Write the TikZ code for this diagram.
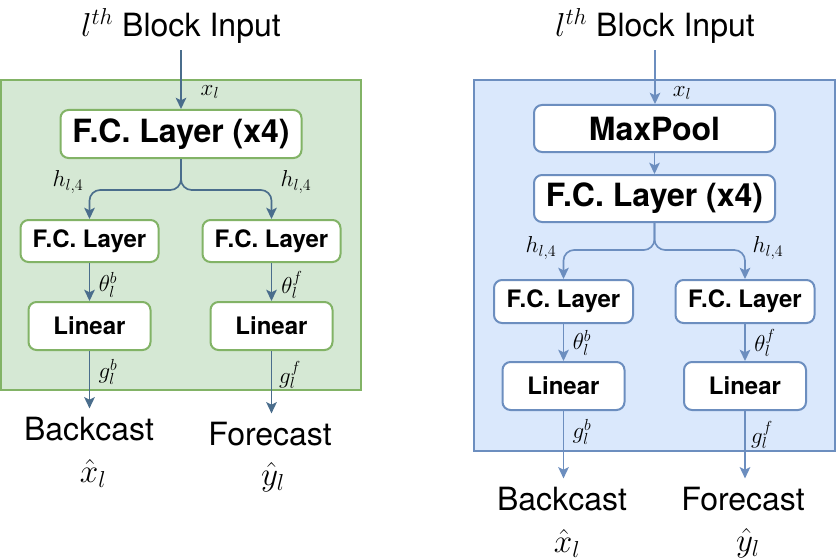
\documentclass[tikz,border=0pt]{standalone}
\usepackage[no-math]{fontspec}
\setmainfont{TeX Gyre Heros}
\usetikzlibrary{arrows.meta}
\definecolor{gfill}{HTML}{D5E8D4}
\definecolor{gline}{HTML}{82B366}
\definecolor{bfill}{HTML}{DAE8FC}
\definecolor{bline}{HTML}{6C8EBF}
\definecolor{darr}{HTML}{4A6D8C}
% box: style, name, cx, cy, w, h (px), text
\newcommand{\blk}[7]{\node[#1, minimum width=#5*0.75pt, minimum height=#6*0.75pt] (#2) at (#3,#4) {#7};}

\begin{document}
\begin{tikzpicture}[x=0.75pt, y=-0.75pt,
  box/.style={draw, line width=1.5pt, rounded corners=6pt, fill=white, inner sep=0pt},
  boxG/.style={box, draw=gline}, boxB/.style={box, draw=bline},
  big/.style={font=\fontsize{24}{28}\selectfont\bfseries},
  small/.style={font=\fontsize{18}{22}\selectfont\bfseries},
  ttl/.style={font=\fontsize{24}{28}\selectfont, inner sep=0pt, anchor=base},
  lbl/.style={font=\fontsize{17.5}{20}\selectfont, inner sep=0pt},
  hat/.style={font=\fontsize{26}{30}\selectfont, inner sep=0pt},
  tip/.style={-{Stealth[length=8.5pt, width=8pt, inset=2pt]}},
  arrG/.style={draw=darr, line width=1.25pt, tip},
  arrB/.style={draw=bline, line width=1.25pt, tip}]
  \useasboundingbox (0,0) rectangle (836,560);
  % left block
  \draw[line width=1.2pt, draw=gline, fill=gfill] (1,80) rectangle (361,390);
  \node[ttl] (inL) at (181,37) {$l^{th}$ Block Input};
  \blk{boxG,big}{fcL}{181}{134}{241}{48}{F.C. Layer (x4)}
  \blk{boxG,small}{fcbL}{89.5}{241}{138}{42}{F.C. Layer}
  \blk{boxG,small}{fcfL}{271.5}{241}{138}{42}{F.C. Layer}
  \blk{boxG,small}{linbL}{89.5}{326}{122}{48}{Linear}
  \blk{boxG,small}{linfL}{271.5}{326}{122}{48}{Linear}
  \coordinate (splitL) at (181,190);
  \node[ttl] (backL) at (89,440) {Backcast};
  \node[ttl] (foreL) at (270,445) {Forecast};
  \node[hat] (xhatL) at (93,473) {$\hat{x}_l$};
  \node[hat] (yhatL) at (273,477) {$\hat{y}_l$};
  \node[lbl] (xlL) at (210,92) {$x_l$};
  \node[lbl] (hbL) at (68,182) {$h_{l,4}$};
  \node[lbl] (hfL) at (296,182) {$h_{l,4}$};
  \node[lbl] (tbL) at (108,285) {$\theta_l^b$};
  \node[lbl] (tfL) at (292,285) {$\theta_l^f$};
  \node[lbl] (gbL) at (108,372) {$g_l^b$};
  \node[lbl] (gfL) at (290,375) {$g_l^f$};
  \draw[arrG, shorten <=4.5pt] (inL.south) -- (fcL.north);
  \draw[arrG, rounded corners=8pt] (fcL.south) -- (splitL) -| (fcbL.north);
  \draw[arrG, rounded corners=8pt] (fcL.south) -- (splitL) -| (fcfL.north);
  \draw[arrG] (fcbL) -- (linbL);
  \draw[arrG] (fcfL) -- (linfL);
  \draw[arrG, shorten >=6pt] (linbL.south) -- (linbL.south |- backL.north);
  \draw[arrG, shorten >=6pt] (linfL.south) -- (linfL.south |- foreL.north);
  % right block
  \draw[line width=1.2pt, draw=bline, fill=bfill] (474,80) rectangle (835,451);
  \node[ttl] (inR) at (655,37) {$l^{th}$ Block Input};
  \blk{boxB,big}{poolR}{654.5}{128.5}{241}{47}{MaxPool}
  \blk{boxB,big}{fcR}{654.5}{198.5}{241}{47}{F.C. Layer (x4)}
  \blk{boxB,small}{fcbR}{563.5}{301.5}{139}{43}{F.C. Layer}
  \blk{boxB,small}{fcfR}{745}{301.5}{139}{43}{F.C. Layer}
  \blk{boxB,small}{linbR}{563.5}{386}{122}{48}{Linear}
  \blk{boxB,small}{linfR}{745}{386}{122}{48}{Linear}
  \coordinate (splitR) at (654.5,250);
  \node[ttl] (backR) at (562,510) {Backcast};
  \node[ttl] (foreR) at (743,510) {Forecast};
  \node[hat] (xhatR) at (567,543) {$\hat{x}_l$};
  \node[hat] (yhatR) at (748,543) {$\hat{y}_l$};
  \node[lbl] (xlR) at (682,93) {$x_l$};
  \node[lbl] (hbR) at (541,248) {$h_{l,4}$};
  \node[lbl] (hfR) at (768,248) {$h_{l,4}$};
  \node[lbl] (tbR) at (582,343) {$\theta_l^b$};
  \node[lbl] (tfR) at (765,343) {$\theta_l^f$};
  \node[lbl] (gbR) at (582,432) {$g_l^b$};
  \node[lbl] (gfR) at (762,435) {$g_l^f$};
  \draw[arrB, shorten <=4.5pt] (inR.south) -- (inR.south |- poolR.north);
  \draw[arrB] (poolR) -- (fcR);
  \draw[arrB, rounded corners=8pt] (fcR.south) -- (splitR) -| (fcbR.north);
  \draw[arrB, rounded corners=8pt] (fcR.south) -- (splitR) -| (fcfR.north);
  \draw[arrB] (fcbR) -- (linbR);
  \draw[arrB] (fcfR) -- (linfR);
  \draw[arrB, shorten >=6pt] (linbR.south) -- (linbR.south |- backR.north);
  \draw[arrB, shorten >=6pt] (linfR.south) -- (linfR.south |- foreR.north);
\end{tikzpicture}
\end{document}
